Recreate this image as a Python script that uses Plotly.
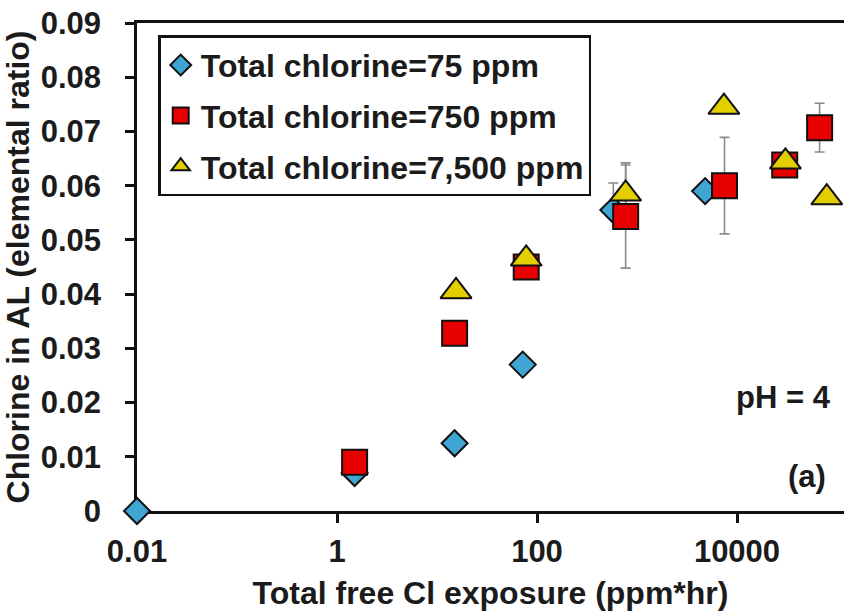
import plotly.graph_objects as go

# Chlorine uptake in the active layer vs. cumulative free-chlorine exposure (pH 4)
series_names = ["Total chlorine=75 ppm", "Total chlorine=750 ppm", "Total chlorine=7,500 ppm"]

exp_75 = [0.01, 1.5, 15, 72, 580, 4800]
cl_75 = [0.0, 0.007, 0.0125, 0.027, 0.0555, 0.059]
err_75_plus = [0, 0, 0, 0, 0.005, 0]
err_75_minus = [0, 0, 0, 0, 0, 0]

exp_750 = [1.5, 15, 78, 770, 7500, 30000, 67000]
cl_750 = [0.009, 0.0328, 0.045, 0.0543, 0.060, 0.0638, 0.0707]
err_750 = [0, 0, 0, 0.0095, 0.0089, 0, 0.0045]

exp_7500 = [15.5, 78, 770, 7400, 30500, 79000]
cl_7500 = [0.0405, 0.0465, 0.0585, 0.0745, 0.0644, 0.0578]
err_7500 = [0, 0, 0.0057, 0, 0, 0]

x_tickvals = [0.01, 1, 100, 10000]
x_ticktext = ["0.01", "1", "100", "10000"]
y_tickvals = [0, 0.01, 0.02, 0.03, 0.04, 0.05, 0.06, 0.07, 0.08, 0.09]
y_ticktext = ["0", "0.01", "0.02", "0.03", "0.04", "0.05", "0.06", "0.07", "0.08", "0.09"]

FONT = "Liberation Sans, Arial, sans-serif"
INK = "#1b1b1b"
ERR = dict(type="data", visible=True, color="#8a8a8a", thickness=1.6, width=5)
OUTLINE = dict(color="#111111", width=2)

fig = go.Figure()

# Error bars first, so every marker sits on top of them
error_layers = [
    (exp_75, cl_75, dict(ERR, array=err_75_plus, arrayminus=err_75_minus, symmetric=False)),
    (exp_750, cl_750, dict(ERR, array=err_750, symmetric=True)),
    (exp_7500, cl_7500, dict(ERR, array=err_7500, symmetric=True)),
]
for ex, cy, eb in error_layers:
    fig.add_trace(go.Scatter(
        x=ex, y=cy, mode="markers", showlegend=False, hoverinfo="skip",
        marker=dict(size=1, opacity=0), error_y=eb, cliponaxis=False,
    ))

fig.add_trace(go.Scatter(
    x=exp_75, y=cl_75, mode="markers", name=series_names[0], legendgroup="a",
    cliponaxis=False,
    marker=dict(symbol="diamond", size=20, color="#3fa6d3", line=OUTLINE),
))
fig.add_trace(go.Scatter(
    x=exp_750, y=cl_750, mode="markers", name=series_names[1], legendgroup="b",
    cliponaxis=False,
    marker=dict(symbol="square", size=25, color="#e80000", line=OUTLINE),
))
fig.add_trace(go.Scatter(
    x=exp_7500, y=cl_7500, mode="markers", name=series_names[2], legendgroup="c",
    cliponaxis=False,
    marker=dict(symbol="triangle-up", size=27, color="#e3cf00", line=OUTLINE),
))

axis_common = dict(
    showline=True, linecolor="#111111", linewidth=2.5,
    ticks="outside", ticklen=9, tickwidth=2.5, tickcolor="#111111",
    showgrid=False, zeroline=False, layer="below traces",
    tickfont=dict(family=FONT, size=31, color=INK, weight="bold"),
)

fig.update_xaxes(
    type="log", range=[-2, 5.07], tickmode="array",
    tickvals=x_tickvals, ticktext=x_ticktext, mirror=True, ticklabelstandoff=2,
    title=dict(text="Total free Cl exposure (ppm*hr)", standoff=14,
               font=dict(family=FONT, size=32, color=INK, weight="bold")),
    **axis_common,
)
fig.update_yaxes(
    range=[0, 0.09], tickmode="array", tickvals=y_tickvals, ticktext=y_ticktext,
    ticklabelstandoff=18,
    title=dict(text="Chlorine in AL (elemental ratio)", standoff=2,
               font=dict(family=FONT, size=32, color=INK, weight="bold")),
    **axis_common,
)

fig.add_annotation(text="pH = 4", xref="paper", yref="paper", x=0.984, y=0.233,
                   xanchor="right", yanchor="middle", showarrow=False,
                   font=dict(family=FONT, size=31, color=INK, weight="bold"))
fig.add_annotation(text="(a)", xref="paper", yref="paper", x=0.977, y=0.07,
                   xanchor="right", yanchor="middle", showarrow=False,
                   font=dict(family=FONT, size=31, color=INK, weight="bold"))

fig.update_layout(
    width=844, height=613,
    margin=dict(l=137, r=0, t=23, b=102, autoexpand=False),
    paper_bgcolor="white", plot_bgcolor="white",
    showlegend=True,
    legend=dict(
        x=0.03, y=0.975, xanchor="left", yanchor="top",
        bgcolor="white", bordercolor="#111111", borderwidth=2.5,
        font=dict(family=FONT, size=32, color=INK, weight="bold"),
        tracegroupgap=6, itemsizing="trace",
    ),
)

fig.write_html("out.html")
